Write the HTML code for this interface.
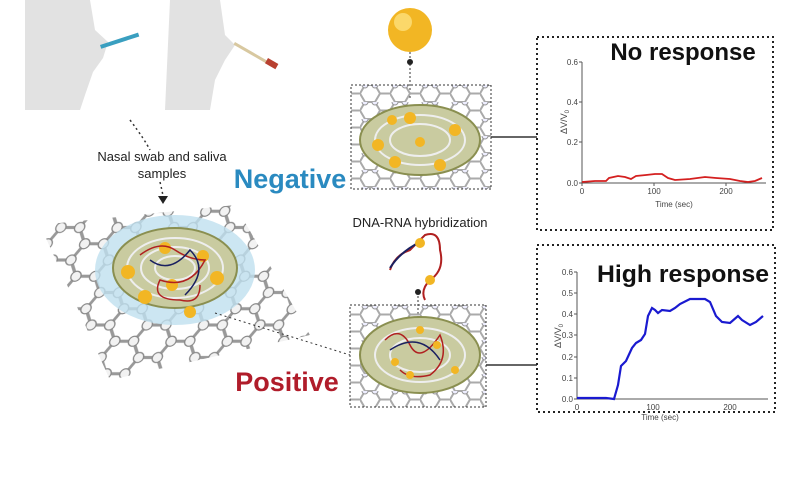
<!DOCTYPE html>
<html><head><style>
body{margin:0;background:#fff;}
svg{display:block;font-family:"Liberation Sans",sans-serif;}
</style></head><body>
<svg width="800" height="480" viewBox="0 0 800 480">
<defs>
<pattern id="hex" width="45" height="26" patternUnits="userSpaceOnUse" patternTransform="scale(1.25) skewX(-15)">
<path d="M0 13 L7.5 0 L22.5 0 L30 13 L22.5 26 L7.5 26 Z M30 13 L45 13" fill="none" stroke="#999" stroke-width="2.5"/>
<circle cx="7.5" cy="0" r="4" fill="#f2f2f2" stroke="#888"/><circle cx="22.5" cy="0" r="4" fill="#f2f2f2" stroke="#888"/>
<circle cx="0" cy="13" r="4" fill="#f2f2f2" stroke="#888"/><circle cx="30" cy="13" r="4" fill="#f2f2f2" stroke="#888"/>
<circle cx="45" cy="13" r="4" fill="#f2f2f2" stroke="#888"/>
<circle cx="7.5" cy="26" r="4" fill="#f2f2f2" stroke="#888"/><circle cx="22.5" cy="26" r="4" fill="#f2f2f2" stroke="#888"/>
</pattern>
<pattern id="hexs" width="30" height="17" patternUnits="userSpaceOnUse">
<path d="M0 8.5 L5 0 L15 0 L20 8.5 L15 17 L5 17 Z M20 8.5 L30 8.5" fill="none" stroke="#aaa" stroke-width="2"/>
<circle cx="5" cy="0" r="3" fill="#eef" stroke="#999"/><circle cx="15" cy="0" r="3" fill="#eef" stroke="#999"/>
</pattern>
</defs>
<!-- people (rough) -->
<path d="M25 0 L90 0 L95 30 L108 42 L103 58 L93 72 L85 95 L80 110 L25 110 Z" fill="#e2e2e2"/>
<rect x="100" y="45" width="40" height="4" fill="#3a9fc0" transform="rotate(-18 100 45)"/>
<path d="M170 0 L220 0 L225 35 L235 45 L225 60 L215 80 L210 110 L165 110 Z" fill="#e2e2e2"/>
<rect x="235" y="42" width="45" height="3" fill="#d8c8a0" transform="rotate(30 235 42)"/>
<rect x="268" y="58" width="12" height="6" fill="#b84030" transform="rotate(30 268 58)"/>
<text x="162" y="161" font-size="13" text-anchor="middle" fill="#222">Nasal swab and saliva</text>
<text x="162" y="178" font-size="13" text-anchor="middle" fill="#222">samples</text>
<path d="M130 120 Q145 140 150 150 M160 182 Q162 190 163 196" fill="none" stroke="#333" stroke-dasharray="2 3" stroke-width="1.5"/>
<path d="M158 196 L168 196 L163 204 Z" fill="#222"/>
<!-- graphene -->
<polygon points="40,225 235,205 310,335 110,380" fill="url(#hex)"/>
<ellipse cx="175" cy="270" rx="80" ry="55" fill="#bfe0ef" opacity="0.8"/>
<ellipse cx="175" cy="268" rx="62" ry="40" fill="#c9cba0" stroke="#8a8f50" stroke-width="2"/>
<ellipse cx="175" cy="268" rx="48" ry="30" fill="none" stroke="#eee" stroke-width="2"/>
<ellipse cx="175" cy="268" rx="34" ry="21" fill="none" stroke="#eee" stroke-width="2"/>
<ellipse cx="175" cy="268" rx="20" ry="12" fill="none" stroke="#eee" stroke-width="2"/>
<g fill="#f2b624"><circle cx="128" cy="272" r="7"/><circle cx="145" cy="297" r="7"/><circle cx="190" cy="312" r="6"/><circle cx="217" cy="278" r="7"/><circle cx="165" cy="248" r="6"/><circle cx="203" cy="256" r="6"/><circle cx="172" cy="285" r="6"/></g>
<path d="M140 255 Q160 240 175 250 T205 260 Q190 290 160 280 Q150 300 180 300 Q200 305 200 285" fill="none" stroke="#b02020" stroke-width="1.5"/>
<path d="M150 260 Q170 275 190 250 Q210 270 185 295" fill="none" stroke="#1a2060" stroke-width="1.5"/>
<path d="M215 313 L350 355" stroke="#333" stroke-dasharray="2 3"/>
<text x="290" y="188" font-size="27" font-weight="bold" fill="#2a8ac0" text-anchor="middle">Negative</text>
<text x="287" y="391" font-size="27" font-weight="bold" fill="#b01c2a" text-anchor="middle">Positive</text>
<!-- gold sphere -->
<circle cx="410" cy="30" r="22" fill="#f2b624"/><circle cx="403" cy="22" r="9" fill="#fbd86a"/>
<line x1="410" y1="52" x2="410" y2="100" stroke="#333" stroke-dasharray="2 2"/><circle cx="410" cy="62" r="3" fill="#222"/>
<!-- top middle box -->
<rect x="351" y="85" width="140" height="104" fill="url(#hexs)" stroke="#333" stroke-dasharray="2 2"/>
<ellipse cx="420" cy="140" rx="60" ry="35" fill="#c9cba0" stroke="#8a8f50" stroke-width="2"/>
<ellipse cx="420" cy="140" rx="45" ry="25" fill="none" stroke="#eee" stroke-width="2"/>
<ellipse cx="420" cy="140" rx="30" ry="16" fill="none" stroke="#eee" stroke-width="2"/>
<g fill="#f2b624"><circle cx="378" cy="145" r="6"/><circle cx="395" cy="162" r="6"/><circle cx="440" cy="165" r="6"/><circle cx="455" cy="130" r="6"/><circle cx="410" cy="118" r="6"/><circle cx="420" cy="142" r="5"/><circle cx="392" cy="120" r="5"/></g>
<line x1="491" y1="137" x2="537" y2="137" stroke="#333" stroke-width="1.5"/>
<text x="420" y="227" font-size="13" text-anchor="middle" fill="#222">DNA-RNA hybridization</text>
<path d="M390 270 Q395 255 410 250 Q420 240 425 235 Q440 230 440 250 Q445 270 430 280 Q420 290 425 300" fill="none" stroke="#b02020" stroke-width="2"/>
<path d="M390 268 Q400 252 420 242" fill="none" stroke="#1a2060" stroke-width="2"/>
<circle cx="420" cy="243" r="5" fill="#f2b624"/><circle cx="430" cy="280" r="5" fill="#f2b624"/>
<line x1="418" y1="292" x2="418" y2="318" stroke="#333" stroke-dasharray="2 2"/><circle cx="418" cy="292" r="3" fill="#222"/>
<!-- bottom middle box -->
<rect x="350" y="305" width="136" height="102" fill="url(#hexs)" stroke="#333" stroke-dasharray="2 2"/>
<ellipse cx="420" cy="355" rx="60" ry="38" fill="#c9cba0" stroke="#8a8f50" stroke-width="2"/>
<ellipse cx="420" cy="355" rx="45" ry="27" fill="none" stroke="#eee" stroke-width="2"/>
<ellipse cx="420" cy="355" rx="30" ry="17" fill="none" stroke="#eee" stroke-width="2"/>
<path d="M385 340 Q400 325 410 345 T440 335 Q450 360 430 375 Q410 380 400 370" fill="none" stroke="#b02020" stroke-width="1.5"/>
<path d="M390 350 Q420 330 440 360" fill="none" stroke="#1a2060" stroke-width="1.5"/>
<g fill="#f2b624"><circle cx="395" cy="362" r="4"/><circle cx="420" cy="330" r="4"/><circle cx="437" cy="345" r="4"/><circle cx="410" cy="375" r="4"/><circle cx="455" cy="370" r="4"/></g>
<line x1="486" y1="365" x2="537" y2="365" stroke="#333" stroke-width="1.5"/>
<!-- top chart -->
<rect x="537" y="37" width="236" height="193" fill="none" stroke="#222" stroke-width="2" stroke-dasharray="2 3"/>
<text x="683" y="60" font-size="24" font-weight="bold" text-anchor="middle" fill="#111">No response</text>
<g stroke="#555" stroke-width="1"><line x1="582" y1="62" x2="582" y2="183"/><line x1="582" y1="183" x2="766" y2="183"/>
<line x1="579" y1="62" x2="582" y2="62"/><line x1="579" y1="102" x2="582" y2="102"/><line x1="579" y1="142" x2="582" y2="142"/><line x1="579" y1="183" x2="582" y2="183"/>
<line x1="582" y1="183" x2="582" y2="186"/><line x1="654" y1="183" x2="654" y2="186"/><line x1="726" y1="183" x2="726" y2="186"/></g>
<g font-size="8" fill="#444" text-anchor="end"><text x="578" y="65">0.6</text><text x="578" y="105">0.4</text><text x="578" y="145">0.2</text><text x="578" y="186">0.0</text></g>
<g font-size="8" fill="#444" text-anchor="middle"><text x="582" y="194">0</text><text x="654" y="194">100</text><text x="726" y="194">200</text><text x="674" y="207">Time (sec)</text></g>
<text x="0" y="0" font-size="9" fill="#444" text-anchor="middle" transform="translate(567,122) rotate(-90)">ΔV/V<tspan font-size="6" dy="2">0</tspan></text>
<polyline fill="none" stroke="#d42020" stroke-width="1.8" points="582,182 595,181 606,181 609,178 618,176 625,177 631,179 636,176 646,175 655,174 662,174 668,178 675,180 690,179 705,177 716,178 730,179 740,181 748,182 755,181 762,178"/>
<!-- bottom chart -->
<rect x="537" y="245" width="238" height="167" fill="none" stroke="#222" stroke-width="2" stroke-dasharray="2 3"/>
<text x="683" y="282" font-size="24" font-weight="bold" text-anchor="middle" fill="#111" textLength="172" lengthAdjust="spacingAndGlyphs">High response</text>
<g stroke="#555" stroke-width="1"><line x1="577" y1="272" x2="577" y2="399"/><line x1="577" y1="399" x2="768" y2="399"/>
<line x1="574" y1="272" x2="577" y2="272"/><line x1="574" y1="293" x2="577" y2="293"/><line x1="574" y1="314" x2="577" y2="314"/><line x1="574" y1="335" x2="577" y2="335"/><line x1="574" y1="357" x2="577" y2="357"/><line x1="574" y1="378" x2="577" y2="378"/><line x1="574" y1="399" x2="577" y2="399"/></g>
<g font-size="8" fill="#444" text-anchor="end"><text x="573" y="275">0.6</text><text x="573" y="296">0.5</text><text x="573" y="317">0.4</text><text x="573" y="338">0.3</text><text x="573" y="360">0.2</text><text x="573" y="381">0.1</text><text x="573" y="402">0.0</text></g>
<g font-size="8" fill="#444" text-anchor="middle"><text x="577" y="410">0</text><text x="653" y="410">100</text><text x="730" y="410">200</text><text x="660" y="420">Time (sec)</text></g>
<text x="0" y="0" font-size="9" fill="#444" text-anchor="middle" transform="translate(561,336) rotate(-90)">ΔV/V<tspan font-size="6" dy="2">0</tspan></text>
<polyline fill="none" stroke="#1a1ad0" stroke-width="2.2" points="577,398 606,398 614,399 618,385 621,366 626,361 632,348 636,343 641,340 645,334 648,316 652,308 655,310 658,313 662,310 670,311 675,308 680,304 690,299 705,299 710,302 716,316 722,322 730,323 738,316 742,320 750,325 756,322 763,316"/>
</svg>
</body></html>
